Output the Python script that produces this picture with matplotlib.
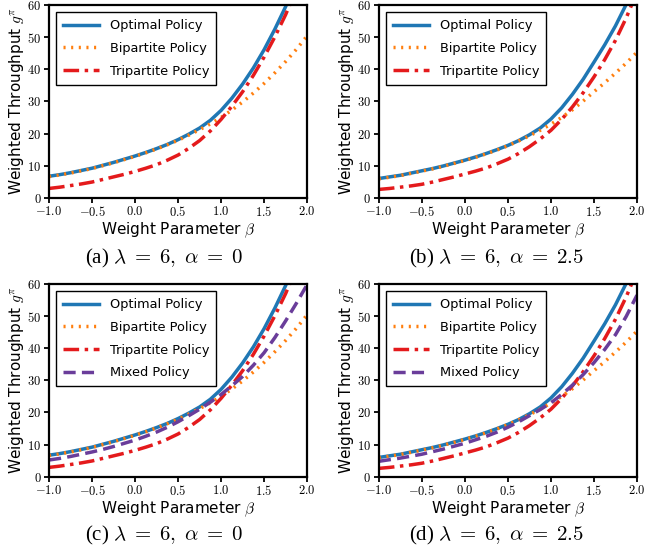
import matplotlib
matplotlib.use('Agg')
import matplotlib.pyplot as plt

plt.rcParams['mathtext.fontset'] = 'cm'
plt.rcParams['font.family'] = 'DejaVu Sans'

# valeurs (pas de 0.125 sur beta)
beta = [-1.0, -0.875, -0.75, -0.625, -0.5, -0.375, -0.25, -0.125, 0.0,
        0.125, 0.25, 0.375, 0.5, 0.625, 0.75, 0.875, 1.0,
        1.125, 1.25, 1.375, 1.5, 1.625, 1.75, 1.875, 2.0]

# alpha = 0
optimal_a0 = [6.7, 7.2, 7.8, 8.5, 9.2, 10.1, 11.0, 12.0, 13.0,
              14.1, 15.3, 16.6, 18.1, 19.8, 21.7, 24.1, 27.2,
              31.0, 35.4, 40.4, 46.1, 52.5, 59.5, 67.5, 77.0]
bipartite_a0 = [6.6, 7.1, 7.7, 8.4, 9.1, 10.0, 10.9, 11.9, 12.9,
                14.0, 15.2, 16.5, 17.9, 19.5, 21.2, 23.0, 25.0,
                27.3, 29.8, 32.6, 35.6, 38.9, 42.4, 46.2, 50.4]
tripartite_a0 = [2.9, 3.3, 3.8, 4.3, 4.9, 5.7, 6.5, 7.3, 8.2,
                 9.2, 10.3, 11.7, 13.3, 15.4, 17.8, 20.8, 24.4,
                 28.5, 33.0, 38.1, 43.8, 50.1, 57.0, 65.0, 74.0]
mixed_a0 = [5.2, 5.7, 6.3, 7.0, 7.7, 8.5, 9.4, 10.4, 11.4,
            12.6, 13.9, 15.4, 17.1, 19.0, 21.0, 23.2, 25.6,
            28.3, 31.2, 34.7, 38.6, 43.3, 48.5, 54.0, 59.8]

# alpha = 2.5
optimal_a25 = [6.0, 6.5, 7.0, 7.7, 8.4, 9.1, 9.9, 10.8, 11.7,
               12.7, 13.8, 15.0, 16.3, 17.8, 19.6, 21.7, 24.5,
               28.0, 32.2, 36.9, 42.2, 47.6, 53.5, 60.2, 68.0]
bipartite_a25 = [5.9, 6.4, 6.9, 7.6, 8.3, 9.0, 9.8, 10.7, 11.6,
                 12.6, 13.7, 14.9, 16.2, 17.7, 19.3, 21.0, 22.9,
                 25.0, 27.4, 30.1, 33.0, 35.8, 38.8, 41.9, 45.3]
tripartite_a25 = [2.6, 2.9, 3.3, 3.7, 4.2, 4.9, 5.7, 6.5, 7.4,
                  8.3, 9.3, 10.6, 12.0, 13.8, 15.9, 18.3, 21.0,
                  24.4, 28.3, 32.7, 37.6, 43.0, 49.0, 56.0, 64.0]
mixed_a25 = [4.8, 5.3, 5.8, 6.4, 7.0, 7.8, 8.6, 9.5, 10.4,
             11.5, 12.6, 13.9, 15.4, 17.1, 19.0, 20.9, 23.0,
             25.6, 28.5, 31.8, 35.5, 39.6, 44.2, 49.9, 56.5]

captions = [r'(a) $\lambda\;=\;6,\;\alpha\;=\;0$', r'(b) $\lambda\;=\;6,\;\alpha\;=\;2.5$',
            r'(c) $\lambda\;=\;6,\;\alpha\;=\;0$', r'(d) $\lambda\;=\;6,\;\alpha\;=\;2.5$']

xticks = [-1.0, -0.5, 0.0, 0.5, 1.0, 1.5, 2.0]
yticks = [0, 10, 20, 30, 40, 50, 60]

STYLES = {
    'Optimal Policy': dict(color='#1f77b4', ls='-'),
    'Bipartite Policy': dict(color='#ff7f0e', ls=(0, (0.6, 1.6))),
    'Tripartite Policy': dict(color='#e41a1c', ls=(0, (4.5, 1.6, 1.0, 1.6))),
    'Mixed Policy': dict(color='#6a3d9a', ls=(0, (3.5, 1.8))),
}

panels = [
    (optimal_a0, bipartite_a0, tripartite_a0, None),
    (optimal_a25, bipartite_a25, tripartite_a25, None),
    (optimal_a0, bipartite_a0, tripartite_a0, mixed_a0),
    (optimal_a25, bipartite_a25, tripartite_a25, mixed_a25),
]

# positions des axes en fraction de la figure
lefts = [0.0735, 0.568, 0.0735, 0.568]
bottoms = [0.643, 0.643, 0.1395, 0.1395]
W, H = 0.387, 0.348
cap_x = [0.245, 0.745, 0.245, 0.745]
cap_y = [0.534, 0.534, 0.034, 0.034]

fig = plt.figure(figsize=(6.67, 5.54), dpi=100)

for i, (opt, bip, tri, mix) in enumerate(panels):
    ax = fig.add_axes([lefts[i], bottoms[i], W, H])
    series = [('Optimal Policy', opt), ('Bipartite Policy', bip), ('Tripartite Policy', tri)]
    if mix is not None:
        series.append(('Mixed Policy', mix))
    for nom, vals in series:
        st = STYLES[nom]
        ax.plot(beta, vals, color=st['color'], linestyle=st['ls'], lw=2.5, label=nom,
                dash_capstyle='butt')
    ax.set_xlim(-1, 2)
    ax.set_ylim(0, 60)
    ax.set_xticks(xticks)
    ax.set_xticklabels([r'$%.1f$' % v for v in xticks], fontsize=9)
    ax.set_yticks(yticks)
    ax.set_yticklabels([r'$%d$' % v for v in yticks], fontsize=9)
    ax.tick_params(direction='out', length=3.5, width=1.3, pad=2)
    for sp in ax.spines.values():
        sp.set_linewidth(1.6)
    ax.set_xlabel(r'Weight Parameter $\beta$', fontsize=11, labelpad=1)
    ax.set_ylabel(r'Weighted Throughput $g^{\pi}$', fontsize=11, labelpad=1)
    leg = ax.legend(loc='upper left', fontsize=9.3, fancybox=False, edgecolor='black',
                    framealpha=1, handlelength=2.8, labelspacing=0.75,
                    borderpad=0.55, borderaxespad=0.55)
    leg.get_frame().set_linewidth(1.0)
    fig.text(cap_x[i], cap_y[i], captions[i], ha='center', va='center', fontsize=15,
             family='Liberation Serif')

fig.savefig('out.png', dpi=100)
